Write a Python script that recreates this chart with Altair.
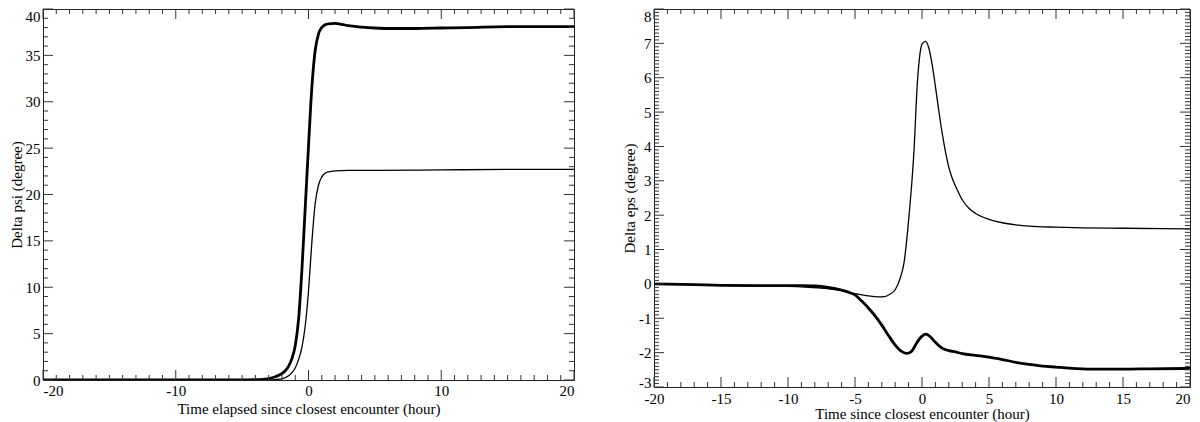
import altair as alt
import pandas as pd

FONT = "Liberation Serif"
TICK = "#333333"

# ---------------- Left panel: Delta psi ----------------
PSI_T_THICK = [-20, -15, -10, -8, -6, -5, -4, -3.5, -3, -2.5, -2, -1.75, -1.5, -1.25, -1, -0.75, -0.5, -0.25,
               0, 0.25, 0.5, 0.75, 1, 1.25, 1.5, 2, 2.5, 3, 4, 5, 6, 8, 10, 12, 15, 20]
PSI_THICK = [0, 0, 0, 0, 0.005, 0.01, 0.03, 0.06, 0.15, 0.35, 0.7, 1.0, 1.5, 2.3, 3.7, 6.5, 11.8, 18.5,
             25.2, 31.5, 35.5, 37.3, 38.0, 38.3, 38.4, 38.45, 38.35, 38.2, 38.05, 37.95, 37.9, 37.9, 37.95, 38.0, 38.1, 38.1]

PSI_T_THIN = [-20, -10, -5, -3, -2.5, -2, -1.5, -1.25, -1, -0.75, -0.5, -0.25, 0, 0.25, 0.5, 0.75, 1, 1.25,
              1.5, 2, 3, 5, 10, 15, 20]
PSI_THIN = [0, 0, 0, 0.02, 0.05, 0.12, 0.45, 0.8, 1.3, 2.2, 3.5, 5.8, 9.6, 14.8, 19.0, 21.0, 21.9, 22.3,
            22.45, 22.55, 22.6, 22.6, 22.65, 22.7, 22.7]

PSI_X_LABELS = [-20, -10, 0, 10, 20]
PSI_Y_LABELS = [0, 5, 10, 15, 20, 25, 30, 35, 40]
PSI_X_MINOR = [i for i in range(-20, 21) if i % 10 != 0]
PSI_Y_MINOR = [i for i in range(0, 41) if i % 5 != 0]

# ---------------- Right panel: Delta eps ----------------
EPS_T_THICK = [-20, -17, -15, -12, -10, -9, -8, -7, -6, -5.5, -5, -4.5, -4, -3.5, -3, -2.5, -2, -1.5, -1.1,
               -0.75, -0.4, 0, 0.3, 0.6, 1, 1.5, 2, 2.5, 3, 4, 5, 6, 7, 8, 9, 10, 11, 12, 13, 14, 15, 17, 20]
EPS_THICK = [0, -0.02, -0.04, -0.05, -0.05, -0.05, -0.06, -0.1, -0.18, -0.24, -0.32, -0.5, -0.7, -0.93, -1.2,
             -1.5, -1.78, -1.97, -2.02, -1.95, -1.72, -1.52, -1.46, -1.53, -1.7, -1.87, -1.94, -1.98, -2.03,
             -2.08, -2.13, -2.2, -2.28, -2.34, -2.39, -2.42, -2.45, -2.47, -2.48, -2.48, -2.48, -2.47, -2.46]

EPS_T_THIN = [-20, -17, -15, -12, -10, -8.7, -7, -6.2, -5, -4, -3.3, -2.8, -2.4, -2, -1.6, -1.34, -1, -0.6,
              -0.35, -0.15, 0, 0.27, 0.5, 0.75, 1, 1.25, 1.5, 1.75, 2, 2.25, 2.5, 3, 3.5, 4, 5, 6, 7, 8, 10,
              12, 15, 20]
EPS_THIN = [0, -0.02, -0.04, -0.06, -0.07, -0.09, -0.14, -0.18, -0.28, -0.35, -0.38, -0.37, -0.3, -0.17, 0.2,
            0.62, 1.85, 3.86, 5.83, 6.7, 6.98, 7.06, 6.88, 6.4, 5.75, 5.05, 4.4, 3.85, 3.4, 3.08, 2.85, 2.45,
            2.2, 2.05, 1.88, 1.78, 1.72, 1.68, 1.65, 1.63, 1.62, 1.6]

EPS_X_LABELS = [-20, -15, -10, -5, 0, 5, 10, 15, 20]
EPS_Y_LABELS = [-3, -2, -1, 0, 1, 2, 3, 4, 5, 6, 7, 8]
EPS_X_MINOR = [i for i in range(-20, 21) if i % 5 != 0]
EPS_Y_MINOR = [round(-3 + 0.1 * i, 1) for i in range(0, 111) if i % 10 != 0]

MAJOR_LEN = 10
MINOR_LEN = 5


def panel(series, xdom, ydom, xlabels, ylabels, xminor, yminor, xtitle, ytitle, W, H,
          y_bottom_raise=False, x_right_flush=False, x_label_pad=3, x_title_pad=2):
    xs = alt.Scale(domain=xdom, nice=False, zero=False)
    ys = alt.Scale(domain=ydom, nice=False, zero=False)
    xkw = {}
    if x_right_flush:
        xkw["labelAlign"] = {"condition": {"test": "datum.value == %s" % xdom[1], "value": "right"},
                             "value": "center"}
    if y_bottom_raise:
        ytest = "datum.value == %s ? 'top' : (datum.value == %s ? 'alphabetic' : 'middle')" % (ydom[1], ydom[0])
    else:
        ytest = "datum.value == %s ? 'top' : 'middle'" % ydom[1]
    ykw = {"labelBaseline": {"condition": {"test": "datum.value == %s" % ydom[1], "value": "top"},
                             "value": "middle"}}
    if y_bottom_raise:
        ykw = {"labelBaseline": {"condition": [
            {"test": "datum.value == %s" % ydom[1], "value": "top"},
            {"test": "datum.value == %s" % ydom[0], "value": "alphabetic"}],
            "value": "middle"}}
    xax = alt.Axis(values=xlabels, title=xtitle, ticks=False, domain=False, grid=False,
                   labelPadding=x_label_pad, titlePadding=x_title_pad, labelExpr="'' + datum.value", **xkw)
    yax = alt.Axis(values=ylabels, title=ytitle, ticks=False, domain=False, grid=False,
                   labelPadding=3, titlePadding=1, labelExpr="'' + datum.value", **ykw)
    ex = alt.X("t:Q", scale=xs, axis=xax)
    ey = alt.Y("v:Q", scale=ys, axis=yax)

    layers = []
    for t, v, w in series:
        df = pd.DataFrame({"t": t, "v": v})
        layers.append(
            alt.Chart(df).mark_line(color="black", strokeWidth=w, interpolate="monotone", clip=True)
            .encode(x=ex, y=ey)
        )

    def xt(vals, length):
        base = alt.Chart(pd.DataFrame({"t": vals})).mark_rule(color=TICK, strokeWidth=1)
        return [base.encode(x=ex, y=alt.value(H), y2=alt.value(H - length)),
                base.encode(x=ex, y=alt.value(0), y2=alt.value(length))]

    def yt(vals, length):
        base = alt.Chart(pd.DataFrame({"v": vals})).mark_rule(color=TICK, strokeWidth=1)
        return [base.encode(y=ey, x=alt.value(0), x2=alt.value(length)),
                base.encode(y=ey, x=alt.value(W), x2=alt.value(W - length))]

    layers += xt(xlabels, MAJOR_LEN) + xt(xminor, MINOR_LEN)
    layers += yt(ylabels, MAJOR_LEN) + yt(yminor, MINOR_LEN)
    return alt.layer(*layers).properties(width=W, height=H)


left = panel(
    [(PSI_T_THICK, PSI_THICK, 2.8), (PSI_T_THIN, PSI_THIN, 1.3)],
    [-20, 20], [0, 40], PSI_X_LABELS, PSI_Y_LABELS, PSI_X_MINOR, PSI_Y_MINOR,
    "Time elapsed since closest encounter (hour)", "Delta psi (degree)", 531, 371,
    x_label_pad=3, x_title_pad=3,
)

right = panel(
    [(EPS_T_THICK, EPS_THICK, 2.8), (EPS_T_THIN, EPS_THIN, 1.3)],
    [-20, 20], [-3, 8], EPS_X_LABELS, EPS_Y_LABELS, EPS_X_MINOR, EPS_Y_MINOR,
    "Time since closest encounter (hour)", "Delta eps (degree)", 536, 378,
    y_bottom_raise=True, x_right_flush=True, x_label_pad=4, x_title_pad=0,
)

chart = (
    alt.hconcat(left, right, spacing=47)
    .properties(padding=0)
    .configure_view(stroke="#222222", strokeWidth=1)
    .configure_axis(
        labelFont=FONT, titleFont=FONT, labelFontSize=15, titleFontSize=15,
        labelColor="black", titleColor="black", titleFontWeight="normal",
    )
)

chart.save("out.html", embed_options={"renderer": "svg", "actions": False})
